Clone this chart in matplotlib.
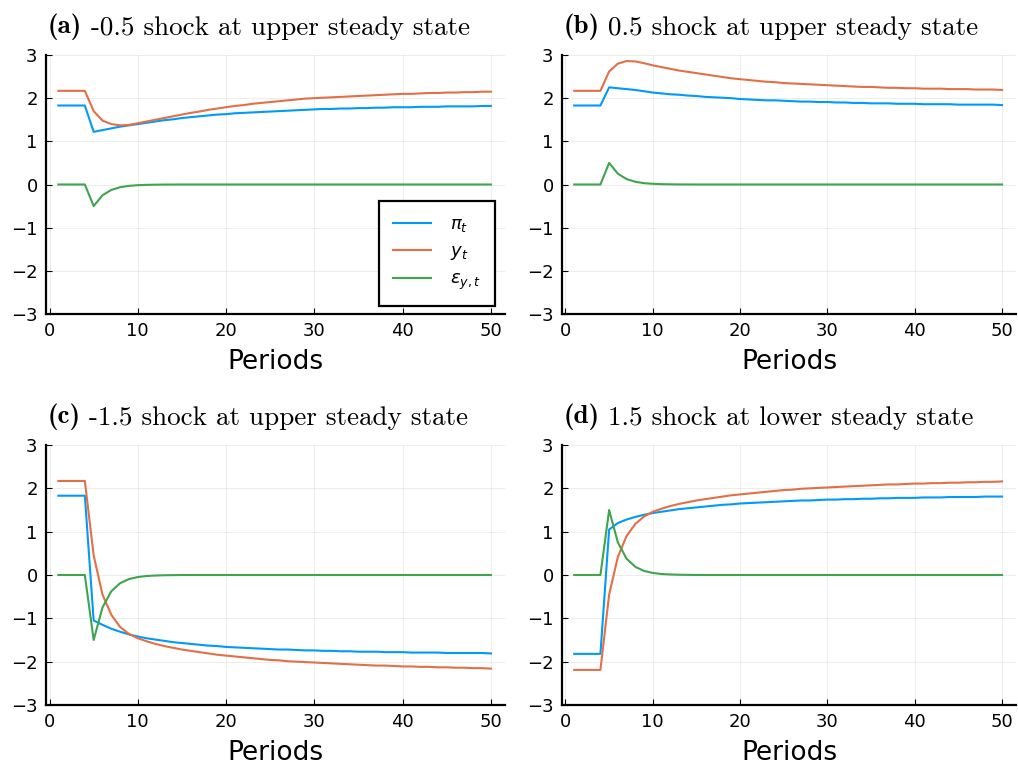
import matplotlib
matplotlib.use("Agg")
import matplotlib.pyplot as plt

# periods 1..50
periods = list(range(1, 51))

# (a) -0.5 shock at upper steady state
a_pi = [1.83, 1.83, 1.83, 1.83, 1.22, 1.26, 1.30, 1.34, 1.37, 1.40,
        1.43, 1.46, 1.49, 1.51, 1.54, 1.56, 1.58, 1.60, 1.62, 1.63,
        1.65, 1.66, 1.67, 1.68, 1.69, 1.70, 1.71, 1.72, 1.73, 1.74,
        1.75, 1.75, 1.76, 1.76, 1.77, 1.77, 1.78, 1.78, 1.79, 1.79,
        1.79, 1.80, 1.80, 1.80, 1.81, 1.81, 1.81, 1.81, 1.82, 1.82]
a_y = [2.17, 2.17, 2.17, 2.17, 1.70, 1.48, 1.40, 1.37, 1.38, 1.42,
       1.46, 1.50, 1.54, 1.58, 1.62, 1.66, 1.69, 1.73, 1.76, 1.79,
       1.82, 1.84, 1.87, 1.89, 1.91, 1.93, 1.95, 1.97, 1.99, 2.00,
       2.01, 2.02, 2.03, 2.04, 2.05, 2.06, 2.07, 2.08, 2.09, 2.10,
       2.10, 2.11, 2.12, 2.12, 2.13, 2.13, 2.14, 2.14, 2.15, 2.15]
a_eps = [0, 0, 0, 0, -0.5, -0.25, -0.125, -0.063, -0.031, -0.016,
         -0.008, -0.004, -0.002, -0.001, 0, 0, 0, 0, 0, 0,
         0, 0, 0, 0, 0, 0, 0, 0, 0, 0,
         0, 0, 0, 0, 0, 0, 0, 0, 0, 0,
         0, 0, 0, 0, 0, 0, 0, 0, 0, 0]

# (b) 0.5 shock at upper steady state
b_pi = [1.83, 1.83, 1.83, 1.83, 2.25, 2.23, 2.21, 2.19, 2.16, 2.13,
        2.11, 2.09, 2.08, 2.06, 2.05, 2.03, 2.02, 2.01, 2.00, 1.98,
        1.97, 1.96, 1.95, 1.95, 1.94, 1.93, 1.92, 1.92, 1.91, 1.91,
        1.90, 1.90, 1.89, 1.89, 1.88, 1.88, 1.88, 1.87, 1.87, 1.87,
        1.86, 1.86, 1.86, 1.86, 1.85, 1.85, 1.85, 1.85, 1.85, 1.84]
b_y = [2.17, 2.17, 2.17, 2.17, 2.62, 2.80, 2.86, 2.85, 2.81, 2.76,
       2.72, 2.68, 2.64, 2.61, 2.58, 2.55, 2.52, 2.49, 2.46, 2.44,
       2.42, 2.40, 2.38, 2.37, 2.35, 2.34, 2.33, 2.32, 2.31, 2.30,
       2.29, 2.28, 2.27, 2.26, 2.26, 2.25, 2.24, 2.24, 2.23, 2.23,
       2.22, 2.22, 2.22, 2.21, 2.21, 2.21, 2.20, 2.20, 2.20, 2.19]
b_eps = [0, 0, 0, 0, 0.5, 0.25, 0.125, 0.063, 0.031, 0.016,
         0.008, 0.004, 0.002, 0.001, 0, 0, 0, 0, 0, 0,
         0, 0, 0, 0, 0, 0, 0, 0, 0, 0,
         0, 0, 0, 0, 0, 0, 0, 0, 0, 0,
         0, 0, 0, 0, 0, 0, 0, 0, 0, 0]

# (c) -1.5 shock at upper steady state
c_pi = [1.83, 1.83, 1.83, 1.83, -1.05, -1.15, -1.24, -1.31, -1.37, -1.42,
        -1.46, -1.49, -1.52, -1.55, -1.57, -1.59, -1.61, -1.63, -1.64, -1.66,
        -1.67, -1.68, -1.69, -1.70, -1.71, -1.72, -1.72, -1.73, -1.74, -1.74,
        -1.75, -1.75, -1.76, -1.76, -1.77, -1.77, -1.77, -1.78, -1.78, -1.78,
        -1.79, -1.79, -1.79, -1.79, -1.80, -1.80, -1.80, -1.80, -1.80, -1.81]
c_y = [2.17, 2.17, 2.17, 2.17, 0.45, -0.45, -0.92, -1.20, -1.36, -1.46,
       -1.53, -1.59, -1.64, -1.68, -1.72, -1.75, -1.78, -1.81, -1.84, -1.86,
       -1.88, -1.90, -1.92, -1.94, -1.96, -1.97, -1.99, -2.00, -2.01, -2.02,
       -2.03, -2.04, -2.05, -2.06, -2.07, -2.08, -2.09, -2.09, -2.10, -2.11,
       -2.11, -2.12, -2.12, -2.13, -2.13, -2.14, -2.14, -2.15, -2.15, -2.16]
c_eps = [0, 0, 0, 0, -1.5, -0.75, -0.375, -0.188, -0.094, -0.047,
         -0.023, -0.012, -0.006, -0.003, -0.001, 0, 0, 0, 0, 0,
         0, 0, 0, 0, 0, 0, 0, 0, 0, 0,
         0, 0, 0, 0, 0, 0, 0, 0, 0, 0,
         0, 0, 0, 0, 0, 0, 0, 0, 0, 0]

# (d) 1.5 shock at lower steady state
d_pi = [-1.82, -1.82, -1.82, -1.82, 1.05, 1.20, 1.28, 1.34, 1.39, 1.43,
        1.46, 1.49, 1.52, 1.54, 1.56, 1.58, 1.60, 1.62, 1.63, 1.65,
        1.66, 1.67, 1.68, 1.69, 1.70, 1.71, 1.72, 1.72, 1.73, 1.74,
        1.74, 1.75, 1.75, 1.76, 1.76, 1.77, 1.77, 1.78, 1.78, 1.78,
        1.79, 1.79, 1.79, 1.80, 1.80, 1.80, 1.80, 1.81, 1.81, 1.81]
d_y = [-2.19, -2.19, -2.19, -2.19, -0.45, 0.42, 0.90, 1.18, 1.35, 1.46,
       1.53, 1.59, 1.64, 1.68, 1.72, 1.75, 1.78, 1.81, 1.84, 1.86,
       1.88, 1.90, 1.92, 1.94, 1.96, 1.97, 1.99, 2.00, 2.01, 2.02,
       2.03, 2.04, 2.05, 2.06, 2.07, 2.08, 2.09, 2.09, 2.10, 2.11,
       2.11, 2.12, 2.12, 2.13, 2.13, 2.14, 2.14, 2.15, 2.15, 2.16]
d_eps = [0, 0, 0, 0, 1.5, 0.75, 0.375, 0.188, 0.094, 0.047,
         0.023, 0.012, 0.006, 0.003, 0.001, 0, 0, 0, 0, 0,
         0, 0, 0, 0, 0, 0, 0, 0, 0, 0,
         0, 0, 0, 0, 0, 0, 0, 0, 0, 0,
         0, 0, 0, 0, 0, 0, 0, 0, 0, 0]

panel_tags = ["(a)", "(b)", "(c)", "(d)"]
panel_titles = ["-0.5 shock at upper steady state", "0.5 shock at upper steady state",
                "-1.5 shock at upper steady state", "1.5 shock at lower steady state"]
series_labels = [r"$\pi_t$", r"$y_t$", r"$\varepsilon_{y,t}$"]
xticks = [0, 10, 20, 30, 40, 50]
yticks = [-3, -2, -1, 0, 1, 2, 3]

colors = ["#009AFA", "#E36F47", "#3EA44E"]

panels = [(a_pi, a_y, a_eps), (b_pi, b_y, b_eps), (c_pi, c_y, c_eps), (d_pi, d_y, d_eps)]

W, H = 1018, 760
# axes boxes in pixels: left, top, right, bottom
boxes = [(46, 55, 505, 314), (562, 55, 1016, 314),
         (46, 445, 505, 705), (562, 445, 1016, 705)]

fig = plt.figure(figsize=(W / 100, H / 100), dpi=100)

for i, (series, box) in enumerate(zip(panels, boxes)):
    l, t, r, b = box
    ax = fig.add_axes([l / W, 1 - b / H, (r - l) / W, (b - t) / H])
    for vals, col, lab in zip(series, colors, series_labels):
        ax.plot(periods, vals, color=col, lw=1.5, label=lab)
    ax.set_xlim(-0.4, 51.6)
    ax.set_ylim(-3, 3)
    ax.set_xticks(xticks)
    ax.set_yticks(yticks)
    ax.grid(True, color="black", alpha=0.1, lw=0.5)
    for s in ["top", "right"]:
        ax.spines[s].set_visible(False)
    for s in ["left", "bottom"]:
        ax.spines[s].set_linewidth(1.6)
    ax.tick_params(direction="in", length=4, width=0.8, labelsize=13, pad=6)
    ax.set_xlabel("Periods", fontsize=19, labelpad=6)

    # title: bold tag + roman text, both in Computer Modern
    tag = ax.text(2 / (r - l), 1 + 22 / (b - t), panel_tags[i], transform=ax.transAxes,
                  fontsize=19.5, fontfamily="cmb10", ha="left", va="baseline")
    ax.annotate(panel_titles[i], xy=(1, 0), xycoords=tag, xytext=(6, 0),
                textcoords="offset points", fontsize=19.5, fontfamily="cmr10",
                ha="left", va="bottom")

    if i == 0:
        leg = ax.legend(loc="lower right", bbox_to_anchor=(0.978, 0.032), borderaxespad=0,
                        fontsize=13, fancybox=False, framealpha=1, edgecolor="black",
                        handlelength=2.1, labelspacing=0.45, borderpad=0.75, handletextpad=1.1)
        leg.get_frame().set_linewidth(1.6)

fig.savefig("out.png", dpi=100)
